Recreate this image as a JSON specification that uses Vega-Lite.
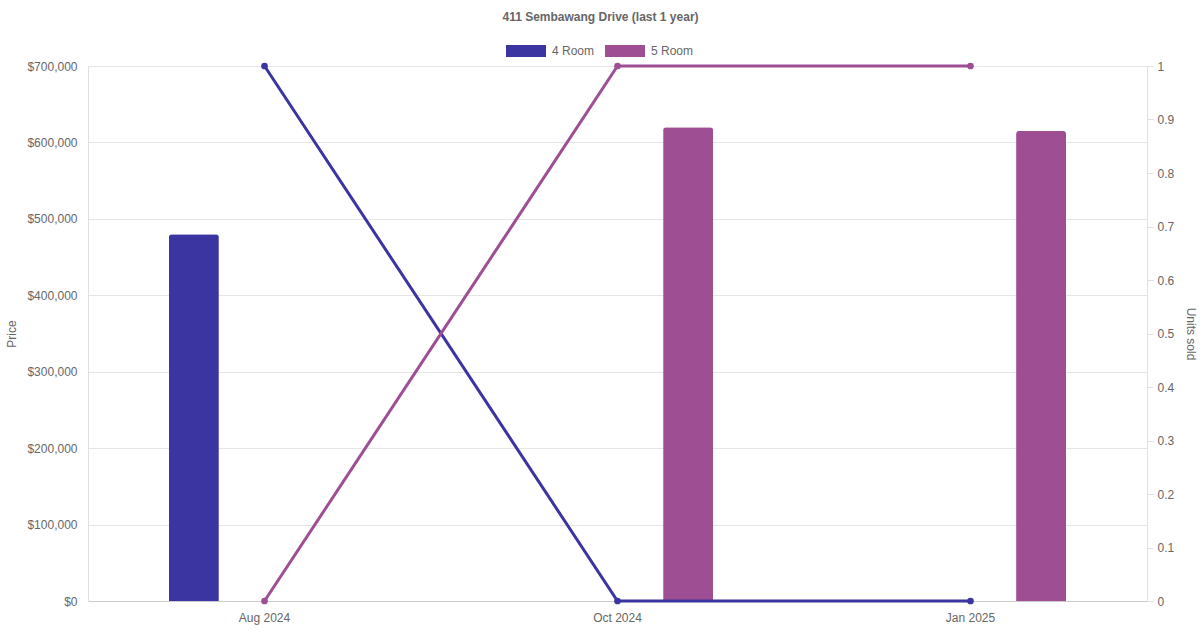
{
  "$schema": "https://vega.github.io/schema/vega-lite/v6.json",
  "width": 1059,
  "height": 535,
  "autosize": {"type": "none"},
  "padding": {"left": 88, "top": 66, "right": 53, "bottom": 29},
  "background": "white",
  "title": {
    "text": "411 Sembawang Drive (last 1 year)",
    "anchor": "middle",
    "dx": -17,
    "offset": 7,
    "font": "Liberation Sans",
    "fontSize": 12,
    "fontWeight": "bold",
    "color": "#666666"
  },
  "config": {
    "view": {"stroke": null},
    "font": "Liberation Sans",
    "axis": {
      "labelFont": "Liberation Sans",
      "titleFont": "Liberation Sans",
      "labelFontSize": 12,
      "titleFontSize": 12,
      "labelColor": "#666666",
      "titleColor": "#666666",
      "titleFontWeight": "normal"
    },
    "legend": {
      "labelFont": "Liberation Sans",
      "labelFontSize": 12,
      "labelColor": "#666666"
    }
  },
  "data": {
    "values": [
      {"month": "Aug 2024", "room": "4 Room", "price": 480000, "units": 1},
      {"month": "Aug 2024", "room": "5 Room", "price": null, "units": 0},
      {"month": "Oct 2024", "room": "4 Room", "price": null, "units": 0},
      {"month": "Oct 2024", "room": "5 Room", "price": 620000, "units": 1},
      {"month": "Jan 2025", "room": "4 Room", "price": null, "units": 0},
      {"month": "Jan 2025", "room": "5 Room", "price": 615000, "units": 1}
    ]
  },
  "encoding": {
    "x": {
      "field": "month",
      "type": "ordinal",
      "sort": ["Aug 2024", "Oct 2024", "Jan 2025"],
      "scale": {"paddingInner": 0, "paddingOuter": 0},
      "axis": {
        "title": null,
        "labelAngle": 0,
        "ticks": false,
        "grid": false,
        "domainColor": "#cccccc",
        "labelPadding": 11
      }
    },
    "color": {
      "field": "room",
      "type": "nominal",
      "scale": {"domain": ["4 Room", "5 Room"], "range": ["#3a35a0", "#9e4f93"]},
      "legend": {
        "title": null,
        "orient": "none",
        "direction": "horizontal",
        "legendX": 418,
        "legendY": -35,
        "symbolType": "M-1,-0.3H1V0.3H-1Z",
        "symbolSize": 1600,
        "symbolStrokeWidth": 0,
        "symbolOpacity": 1,
        "labelOffset": 6,
        "columnPadding": 10
      }
    }
  },
  "layer": [
    {
      "transform": [{"filter": "datum.price != null"}],
      "mark": {"type": "bar", "width": 50, "cornerRadiusTopLeft": 3, "cornerRadiusTopRight": 3},
      "encoding": {
        "xOffset": {
          "field": "room",
          "type": "nominal",
          "scale": {"domain": ["4 Room", "5 Room"], "paddingOuter": 0.25, "paddingInner": 0}
        },
        "y": {
          "field": "price",
          "type": "quantitative",
          "scale": {"domain": [0, 700000], "nice": false},
          "axis": {
            "title": "Price",
            "values": [0, 100000, 200000, 300000, 400000, 500000, 600000, 700000],
            "format": "$,.0f",
            "grid": true,
            "gridColor": "#e5e5e5",
            "ticks": false,
            "domainColor": "#e0e0e0",
            "labelPadding": 11,
            "titlePadding": 8
          }
        }
      }
    },
    {
      "mark": {"type": "line", "strokeWidth": 3, "point": {"filled": true, "size": 45}},
      "encoding": {
        "y": {
          "field": "units",
          "type": "quantitative",
          "scale": {"domain": [0, 1], "nice": false},
          "axis": {
            "title": "Units sold",
            "orient": "right",
            "values": [0, 0.1, 0.2, 0.3, 0.4, 0.5, 0.6, 0.7, 0.8, 0.9, 1],
            "format": "~g",
            "grid": false,
            "ticks": true,
            "tickSize": 6,
            "tickColor": "#e0e0e0",
            "domainColor": "#e0e0e0",
            "labelPadding": 4,
            "titlePadding": 10
          }
        }
      }
    }
  ],
  "resolve": {"scale": {"y": "independent"}}
}
